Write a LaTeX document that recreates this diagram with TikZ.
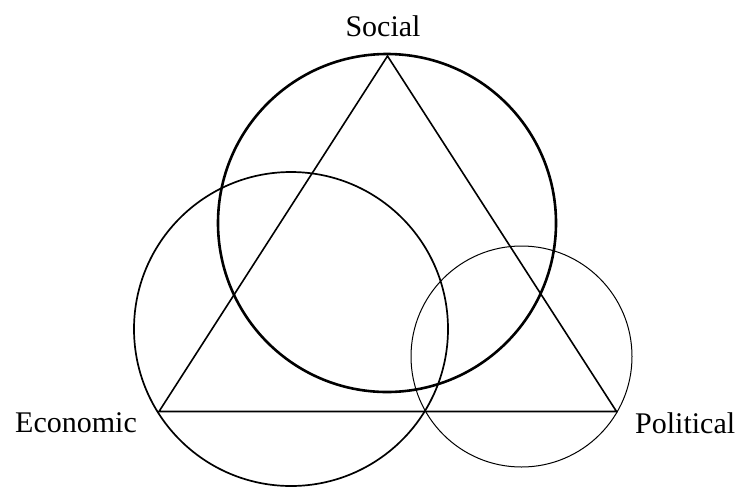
\documentclass[tikz,border=0pt]{standalone}
\usepackage{fontspec}
\setmainfont{Liberation Serif}
\begin{document}
\begin{tikzpicture}[x=1pt,y=-1pt,
  lbl/.style={font=\fontsize{30}{36}\selectfont, inner sep=0pt, anchor=base},
  ring/.style={draw=black, circle, inner sep=0pt}]
\useasboundingbox (0,0) rectangle (744,488);
\coordinate (S) at (387.5,56);
\coordinate (E) at (159,411.5);
\coordinate (P) at (616.5,411.5);
\draw[line width=1.6pt, line join=miter] (S) -- (E) -- (P) -- cycle;
\node[ring, line width=2.6pt, minimum size=338pt] (cs) at (387,223) {};
\node[ring, line width=1.7pt, minimum size=314pt] (ce) at (291,329) {};
\node[ring, line width=1.0pt, minimum size=221pt] (cp) at (521.5,356.5) {};
\node[lbl] (ls) at (383,36.7) {Social};
\node[lbl, anchor=base west] (le) at (15,432.5) {Economic};
\node[lbl, anchor=base west] (lp) at (635,433) {Political};
\end{tikzpicture}
\end{document}
